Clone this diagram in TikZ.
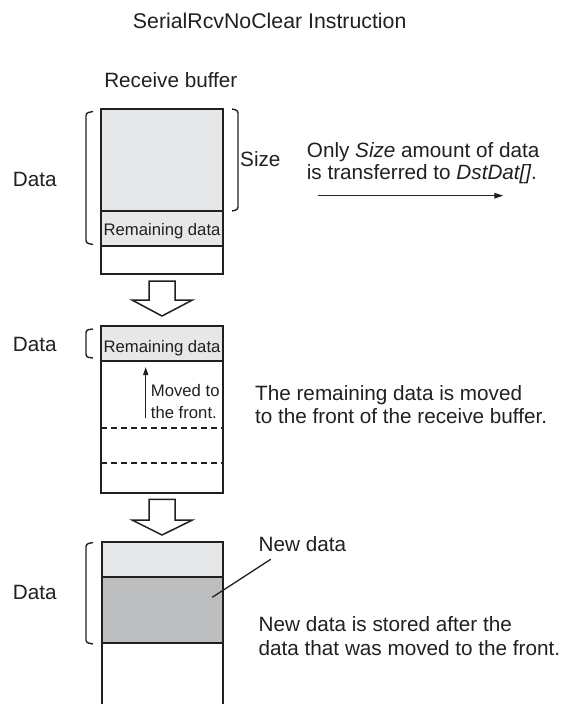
\documentclass[tikz,border=0pt]{standalone}
\usepackage{fontspec}
\setmainfont{Liberation Sans}
\usetikzlibrary{arrows.meta}
\definecolor{lg}{HTML}{E6E7E8}
\definecolor{dg}{HTML}{BCBEC0}
\definecolor{ink}{HTML}{231F20}
\begin{document}
\begin{tikzpicture}[x=1pt,y=-1pt,
  txt/.style={inner sep=0pt, anchor=base west, font=\fontsize{20.7}{22}\selectfont, text=ink},
  ctxt/.style={txt, anchor=base},
  small/.style={inner sep=0pt, anchor=base west, font=\fontsize{16.7}{20}\selectfont, text=ink},
  boxline/.style={draw=ink, line width=2pt},
  dashline/.style={draw=ink, line width=2pt, dash pattern=on 6pt off 4pt},
  brk/.style={draw=ink, line width=1.4pt, rounded corners=2.5pt},
  hollow/.style={draw=ink, line width=1.5pt, fill=white, line join=miter},
  thinarrow/.style={draw=ink, line width=1.3pt, -{Triangle[length=9pt,width=5.5pt]}},
]
\useasboundingbox (0,0) rectangle (568,704);

% title
\node[ctxt, font=\fontsize{21.3}{24}\selectfont] (title) at (269.7,28.5) {SerialRcvNoClear Instruction};
\node[ctxt] (rb) at (170.8,87) {Receive buffer};

% ---- box 1
\fill[lg] (101,109) rectangle (223,246);
\draw[boxline] (101,109) rectangle (223,274);
\draw[boxline] (101,211) -- (223,211);
\draw[boxline] (101,246) -- (223,246);
\node[small, anchor=base] (rem1) at (162,235.5) {Remaining data};
\draw[brk] (93,111.5) -- (86,113) -- (86,243) -- (93,244.5);
\draw[brk] (232,109) -- (238,110.5) -- (238,209.5) -- (232,211);
\node[txt] (size) at (240,166.5) {Size};
\node[txt] (data1) at (12.7,186) {Data};
\node[txt] (only1) at (306.7,157.5) {Only \textit{Size} amount of data};
\node[txt] (only2) at (306.7,179.5) {is transferred to \textit{DstDat[]}.};
\coordinate (ta) at (317.7,195.7);
\coordinate (tb) at (503.3,195.7);
\draw[thinarrow] (ta) -- (tb);

% hollow arrow 1
\draw[hollow] (149,281) -- (175,281) -- (175,300) -- (192.5,300) -- (162,316) -- (132,300) -- (149,300) -- cycle;

% ---- box 2
\fill[lg] (101,326) rectangle (223,361);
\draw[boxline] (101,326) rectangle (223,493);
\draw[boxline] (101,361) -- (223,361);
\draw[dashline] (101,428.3) -- (223,428.3);
\draw[dashline] (101,463.3) -- (223,463.3);
\node[small, anchor=base] (rem2) at (162,352) {Remaining data};
\draw[brk] (93,329) -- (86,330) -- (86,357) -- (93,358);
\node[txt] (data2) at (12.7,351.5) {Data};
\coordinate (mva) at (145.7,418);
\coordinate (mvb) at (145.7,367);
\draw[thinarrow, -{Triangle[length=8pt,width=5pt]}] (mva) -- (mvb);
\node[small] (mv1) at (150.7,396.5) {Moved to};
\node[small] (mv2) at (150.7,418.5) {the front.};
\node[txt] (rm1) at (255,400.5) {The remaining data is moved};
\node[txt] (rm2) at (255,423) {to the front of the receive buffer.};

% hollow arrow 2
\draw[hollow] (149,499.3) -- (175,499.3) -- (175,520) -- (192.5,520) -- (162,535) -- (132,520) -- (149,520) -- cycle;

% ---- box 3
\fill[lg] (101.5,542) rectangle (222.5,577);
\fill[dg] (101.5,577) rectangle (222.5,643);
\draw[boxline] (101.5,704) -- (101.5,542) -- (222.5,542) -- (222.5,704);
\draw[boxline] (101.5,577) -- (222.5,577);
\draw[boxline] (101.5,643) -- (222.5,643);
\draw[brk] (93,542.5) -- (86,544) -- (86,642.5) -- (93,644);
\node[txt] (data3) at (12.7,599.5) {Data};
\node[txt] (nd) at (258.5,551.5) {New data};
\coordinate (ndin) at (212.3,597.3);
\coordinate (ndout) at (270.7,559.3);
\draw[draw=ink, line width=1.3pt] (ndin) -- (ndout);
\node[txt] (ns1) at (258.5,631.5) {New data is stored after the};
\node[txt] (ns2) at (258.5,655) {data that was moved to the front.};
\end{tikzpicture}
\end{document}
